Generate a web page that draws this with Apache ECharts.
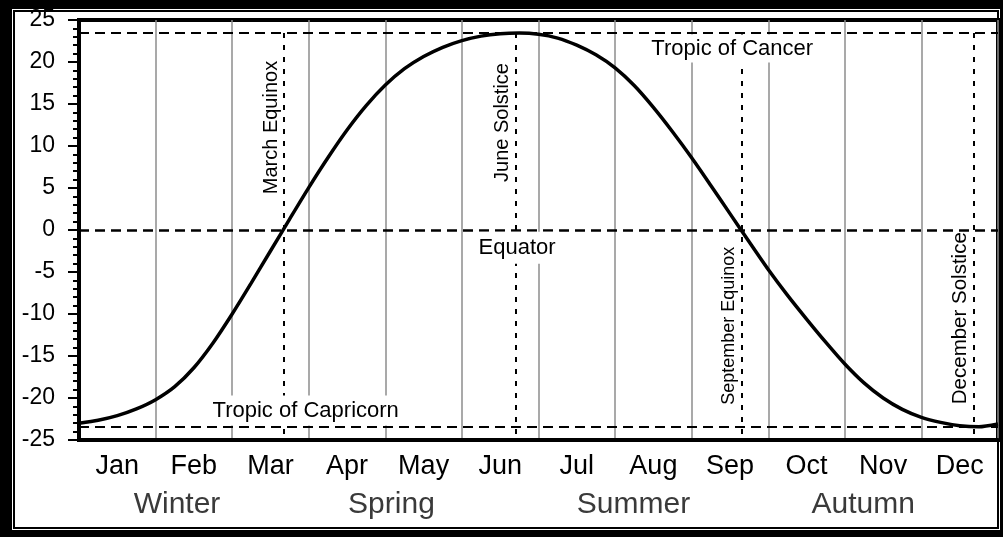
<!DOCTYPE html>
<html>
<head>
<meta charset="utf-8">
<script src="https://cdn.jsdelivr.net/npm/echarts@6/dist/echarts.min.js"></script>
<style>
  body { margin: 0; background: #000; }
  #paper { position: absolute; left: 12px; top: 9px; width: 988px; height: 521px; background: #fff; }
  #rule { position: absolute; left: 13px; top: 10px; width: 986px; height: 519px; border: 2px solid #000; box-sizing: border-box; }
  #main { position: absolute; left: 0; top: 0; width: 1003px; height: 537px; }
</style>
</head>
<body>
<div id="paper"></div>
<div id="rule"></div>
<div id="main"></div>
<script>
// month names along the x axis
var months = ['Jan', 'Feb', 'Mar', 'Apr', 'May', 'Jun', 'Jul', 'Aug', 'Sep', 'Oct', 'Nov', 'Dec'];

// sun declination, every quarter month from 1 Jan
var curveMonth = [0, 0.25, 0.5, 0.75, 1, 1.25, 1.5, 1.75, 2, 2.25, 2.5, 2.75, 3, 3.25, 3.5, 3.75,
  4, 4.25, 4.5, 4.75, 5, 5.25, 5.5, 5.75, 6, 6.25, 6.5, 6.75, 7, 7.25, 7.5, 7.75,
  8, 8.25, 8.5, 8.75, 9, 9.25, 9.5, 9.75, 10, 10.25, 10.5, 10.75, 11, 11.25, 11.5, 11.75, 12];
var curveDecl = [-23.0, -22.65, -22.1, -21.3, -20.2, -18.65, -16.4, -13.45, -10.0, -6.3, -2.5, 1.3, 5.05, 8.6, 11.9, 14.8,
  17.25, 19.2, 20.65, 21.75, 22.55, 23.08, 23.36, 23.44, 23.3, 22.85, 22.0, 20.85, 19.3, 17.2, 14.6, 11.7,
  8.6, 5.3, 1.95, -1.4, -4.7, -7.75, -10.6, -13.35, -15.95, -18.2, -20.0, -21.35, -22.3, -22.9, -23.3, -23.43, -23.1];

// reference latitudes
var refNames = ['Tropic of Cancer', 'Equator', 'Tropic of Capricorn'];
var refLat = [23.44, 0, -23.44];

// equinoxes and solstices
var eventNames = ['March Equinox', 'June Solstice', 'September Equinox', 'December Solstice'];
var eventMonth = [2.68, 5.70, 8.65, 11.68];

// seasons under the month labels
var seasonNames = ['Winter', 'Spring', 'Summer', 'Autumn'];
var seasonMonth = [1.28, 4.08, 7.24, 10.24];

var font = 'Liberation Sans, Arial, Helvetica, sans-serif';
var myChart = echarts.init(document.getElementById('main'));

var curve = curveMonth.map(function (m, i) { return [m, curveDecl[i]]; });

var lines = [];
refLat.forEach(function (v, i) {
  lines.push({ yAxis: v, lineStyle: { type: [10, 6], width: i === 1 ? 2.5 : 2, color: '#000' } });
});
eventMonth.forEach(function (m) {
  lines.push([
    { coord: [m, refLat[0]], lineStyle: { type: [5, 7], width: 2, color: '#000' } },
    { coord: [m, -25] }
  ]);
});

var option = {
  animation: false,
  grid: { left: 79, right: 5, top: 20, bottom: 97, show: true, borderColor: '#000', borderWidth: 4 },
  xAxis: [
    {
      type: 'category',
      data: months,
      boundaryGap: true,
      axisLine: { onZero: false, lineStyle: { color: '#000', width: 4 } },
      axisTick: { length: 8, lineStyle: { color: '#000', width: 2 } },
      axisLabel: { interval: 0, color: '#000', fontSize: 27, fontFamily: font, margin: 13 },
      splitLine: { show: true, lineStyle: { color: '#8c8c8c', width: 1.5 } }
    },
    { type: 'value', min: 0, max: 12, show: false }
  ],
  yAxis: {
    type: 'value',
    min: -25,
    max: 25,
    interval: 5,
    axisLine: { show: true, onZero: false, lineStyle: { color: '#000', width: 4 } },
    axisTick: { show: true, length: 11, lineStyle: { color: '#000', width: 2 } },
    minorTick: { show: true, splitNumber: 5, length: 6, lineStyle: { color: '#000', width: 2 } },
    axisLabel: { color: '#000', fontSize: 23, fontFamily: font, margin: 24 },
    splitLine: { show: false }
  },
  series: [
    {
      type: 'line',
      xAxisIndex: 1,
      data: curve,
      smooth: 0.25,
      symbol: 'none',
      z: 5,
      lineStyle: { color: '#000', width: 3.5 },
      markLine: {
        silent: true,
        symbol: ['none', 'none'],
        label: { show: false },
        data: lines
      }
    }
  ]
};
myChart.setOption(option);

// text annotations placed through the chart's own scales
function px(m, v) {
  return myChart.convertToPixel({ seriesIndex: 0 }, [m, v]);
}
var refAnchor = [[8.53, 21.6], [5.72, -2.1], [2.96, -21.5]];
var refPad = [[3, 4], [5, 4], [4, 4]];
var eventAnchorDecl = [12.2, 12.8, -11.4, -10.5];
var eventFont = [20, 20, 18, 20.5];

var texts = [];
refNames.forEach(function (name, i) {
  var p = px(refAnchor[i][0], refAnchor[i][1]);
  texts.push({
    type: 'text', z: 100, x: p[0], y: p[1],
    style: { text: name, fill: '#000', fontSize: 22, fontFamily: font, align: 'center', verticalAlign: 'middle', backgroundColor: '#fff', padding: refPad[i] }
  });
});
eventNames.forEach(function (name, i) {
  var p = px(eventMonth[i], eventAnchorDecl[i]);
  texts.push({
    type: 'text', z: 100, x: p[0] - 3, y: p[1], rotation: Math.PI / 2,
    style: { text: name, fill: '#000', fontSize: eventFont[i], fontFamily: font, align: 'center', verticalAlign: 'bottom' }
  });
});
seasonNames.forEach(function (name, i) {
  var p = px(seasonMonth[i], 0);
  texts.push({
    type: 'text', z: 100, x: p[0], y: 505,
    style: { text: name, fill: '#3a3a3a', fontSize: 30, fontFamily: font, align: 'center', verticalAlign: 'middle' }
  });
});
myChart.setOption({ graphic: texts });
</script>
</body>
</html>
